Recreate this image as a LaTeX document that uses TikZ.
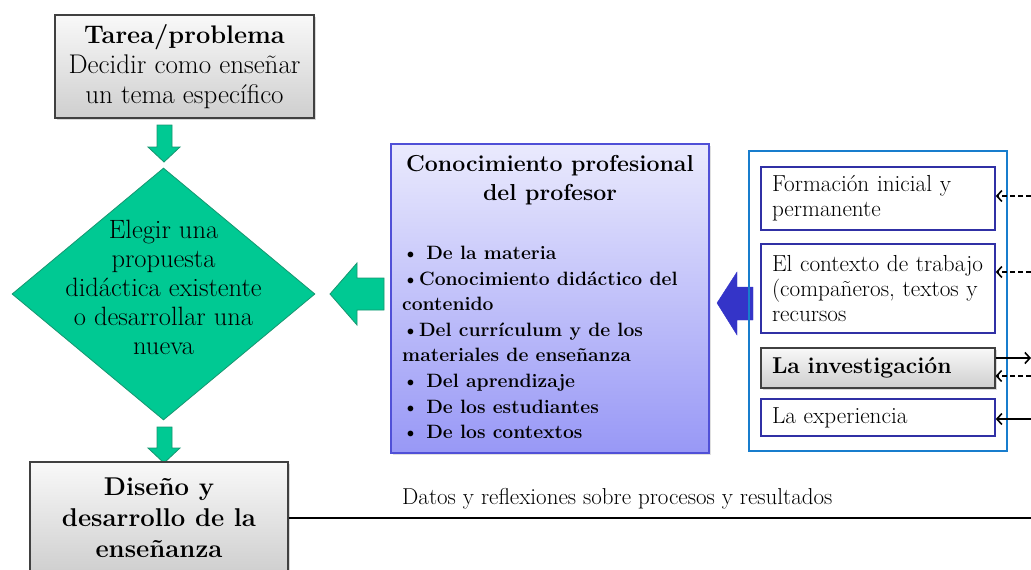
\documentclass[tikz,border=0pt]{standalone}
\usepackage{fontspec}
\usetikzlibrary{arrows.meta,shadows,shapes.geometric}
\definecolor{greenA}{RGB}{0,201,147}
\definecolor{greenB}{RGB}{22,150,112}
\definecolor{purpTop}{RGB}{234,234,253}
\definecolor{purpBot}{RGB}{152,152,246}
\definecolor{purpLine}{RGB}{80,80,215}
\definecolor{frameBlue}{RGB}{24,125,205}
\definecolor{boxBlue}{RGB}{48,48,165}
\definecolor{arrBlue}{RGB}{52,52,200}
\begin{document}
\begin{tikzpicture}[x=1pt,y=-1pt,
  graybox/.style={draw=black!75, line width=1.1pt, top color=gray!5, bottom color=gray!38,
    drop shadow={shadow xshift=2pt, shadow yshift=-2pt, opacity=0.3}},
  greenshape/.style={fill=greenA, draw=greenB, line width=0.8pt},
  whitebox/.style={draw=boxBlue, line width=1.6pt, fill=white, minimum width=234pt,
    inner xsep=11pt, text width=212pt, align=left, font=\fontsize{23.2}{25}\selectfont},
  dasharr/.style={line width=1.6pt, dash pattern=on 5pt off 3pt, -{Straight Barb[length=5pt,width=11pt]}},
  solarr/.style={line width=1.6pt, -{Straight Barb[length=5pt,width=11pt]}}
]
\useasboundingbox (0,0) rectangle (1031,570);

% top box
\node[graybox, minimum width=259pt, minimum height=103pt, align=center,
  font=\fontsize{27}{30}\selectfont] (tarea) at (184.5,66.5)
  {{\fontsize{25.4}{30}\selectfont\bfseries Tarea/problema}\\Decidir como enseñar\\un tema específico};

% green arrow down 1
\draw[greenshape] (157,125) -- (172,125) -- (172,147) -- (180,147) -- (164,162)
  -- (148,147) -- (157,147) -- cycle;

% diamond
\node[diamond, greenshape, minimum width=303pt, minimum height=252pt, inner sep=0pt]
  (elegir) at (163.5,294) {};
\node[align=center, font=\fontsize{26.5}{29}\selectfont] (elegirtxt) at (163.5,287)
  {Elegir una\\propuesta\\didáctica existente\\o desarrollar una\\nueva};

% green arrow down 2
\draw[greenshape] (157,427) -- (172,427) -- (172,448) -- (180,448) -- (164,463)
  -- (148,448) -- (157,448) -- cycle;

% bottom box
\node[graybox, minimum width=258pt, minimum height=112pt, align=center,
  font=\bfseries\fontsize{25.7}{31}\selectfont] (diseno) at (159,518)
  {Diseño y\\desarrollo de la\\enseñanza};

% feedback line
\coordinate (redge) at (1031,517);
\draw[line width=1.8pt] (diseno.east) -- (diseno.east -| redge);
\node[anchor=base west, inner sep=0pt, font=\fontsize{23}{26}\selectfont] (datos) at (402,504)
  {Datos y reflexiones sobre procesos y resultados};

% green arrow left
\draw[greenshape] (330,294) -- (357,263) -- (357,278) -- (384,278) -- (384,310)
  -- (357,310) -- (357,325) -- cycle;

% purple box
\node[draw=purpLine, line width=1.2pt, top color=purpTop, bottom color=purpBot,
  minimum width=318pt, minimum height=309pt,
  drop shadow={shadow xshift=2pt, shadow yshift=-2pt, opacity=0.25}] (conoc) at (550,298.5) {};
\node[align=center, font=\bfseries\fontsize{23.1}{29}\selectfont] (conoctit) at (550,180)
  {Conocimiento profesional\\del profesor};
\node[anchor=west, inner sep=0pt, align=left, font=\bfseries\fontsize{19.3}{25.6}\selectfont]
  (conoclist) at (402,342.5)
  {\textbullet{} De la materia\\
   \textbullet Conocimiento didáctico del\\
   contenido\\
   \textbullet Del currículum y de los\\
   materiales de enseñanza\\
   \textbullet{} Del aprendizaje\\
   \textbullet{} De los estudiantes\\
   \textbullet{} De los contextos};

% blue arrow
\draw[fill=arrBlue, draw=arrBlue] (717,303) -- (737,272) -- (737,287) -- (753,287)
  -- (753,320) -- (737,320) -- (737,335) -- cycle;

% frame
\node[draw=frameBlue, line width=1.5pt, minimum width=258pt, minimum height=300pt] (marco) at (878,301) {};

\node[whitebox, minimum height=63pt] (formacion) at (878,198.5) {Formación inicial y\\permanente};
\node[whitebox, minimum height=89pt] (contexto) at (878,288.5) {El contexto de trabajo\\(compañeros, textos y\\recursos};
\node[graybox, minimum width=234pt, minimum height=40pt, inner xsep=11pt, text width=212pt,
  align=left, font=\bfseries\fontsize{22.9}{26}\selectfont] (investig) at (878,368) {La investigación};
\node[whitebox, minimum height=37pt] (experiencia) at (878,417.5) {La experiencia};

% right side arrows
\coordinate (r1) at (1031,196);
\coordinate (r2) at (1031,272);
\coordinate (r3) at (1031,358);
\coordinate (r4) at (1031,376);
\coordinate (r5) at (1031,419);
\draw[dasharr] (r1) -- (r1 -| formacion.east);
\draw[dasharr] (r2) -- (r2 -| contexto.east);
\draw[solarr] (r3 -| investig.east) -- (r3);
\draw[dasharr] (r4) -- (r4 -| investig.east);
\draw[solarr] (r5) -- (r5 -| experiencia.east);
\end{tikzpicture}
\end{document}
